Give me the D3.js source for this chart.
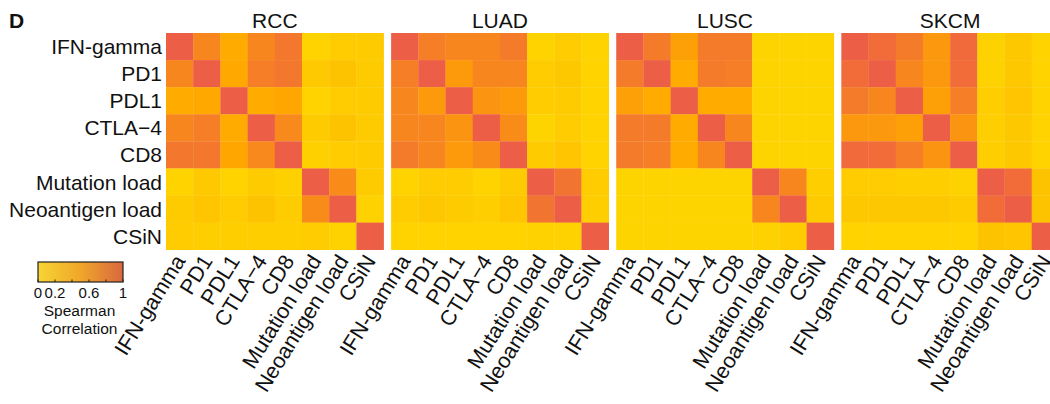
<!DOCTYPE html>
<html>
<head>
<meta charset="utf-8">
<script src="https://cdn.jsdelivr.net/npm/d3@7"></script>
<style>
  html, body { margin: 0; padding: 0; background: #fff; }
  svg { display: block; font-family: "Liberation Sans", Arial, Helvetica, sans-serif; }
</style>
</head>
<body>
<svg id="chart" width="1050" height="404"></svg>
<script>
// Features compared in every cohort
const features = ["IFN-gamma", "PD1", "PDL1", "CTLA\u22124", "CD8", "Mutation load", "Neoantigen load", "CSiN"];
const cohorts = ["RCC", "LUAD", "LUSC", "SKCM"];

// Spearman correlation matrices (rows and columns follow `features`)
const rcc = [
  [1.00, 0.72, 0.45, 0.72, 0.82, 0.03, 0.10, 0.12],
  [0.72, 1.00, 0.47, 0.78, 0.82, 0.14, 0.20, 0.12],
  [0.45, 0.47, 1.00, 0.45, 0.50, 0.03, 0.10, 0.12],
  [0.72, 0.78, 0.45, 1.00, 0.70, 0.12, 0.20, 0.12],
  [0.82, 0.82, 0.50, 0.70, 1.00, 0.06, 0.10, 0.12],
  [0.03, 0.14, 0.03, 0.12, 0.06, 1.00, 0.68, 0.12],
  [0.12, 0.18, 0.10, 0.20, 0.10, 0.68, 1.00, 0.05],
  [0.10, 0.08, 0.08, 0.08, 0.08, 0.10, 0.05, 1.00]
];
const luad = [
  [1.00, 0.78, 0.72, 0.72, 0.80, 0.03, 0.10, 0.03],
  [0.78, 1.00, 0.58, 0.72, 0.72, 0.10, 0.15, 0.03],
  [0.72, 0.58, 1.00, 0.62, 0.58, 0.10, 0.12, 0.03],
  [0.72, 0.72, 0.62, 1.00, 0.68, 0.02, 0.10, 0.03],
  [0.80, 0.72, 0.58, 0.68, 1.00, 0.12, 0.18, 0.03],
  [0.03, 0.10, 0.10, 0.03, 0.12, 1.00, 0.85, 0.10],
  [0.10, 0.15, 0.12, 0.08, 0.18, 0.85, 1.00, 0.08],
  [0.03, 0.03, 0.03, 0.03, 0.03, 0.05, 0.05, 1.00]
];
const lusc = [
  [1.00, 0.80, 0.55, 0.80, 0.80, 0.02, 0.02, 0.02],
  [0.80, 1.00, 0.45, 0.80, 0.78, 0.02, 0.02, 0.02],
  [0.55, 0.45, 1.00, 0.45, 0.45, 0.02, 0.02, 0.02],
  [0.80, 0.80, 0.45, 1.00, 0.72, 0.02, 0.02, 0.02],
  [0.80, 0.78, 0.45, 0.72, 1.00, 0.02, 0.02, 0.02],
  [0.02, 0.02, 0.02, 0.02, 0.02, 1.00, 0.72, 0.08],
  [0.02, 0.02, 0.02, 0.02, 0.02, 0.72, 1.00, 0.12],
  [0.02, 0.02, 0.02, 0.02, 0.02, 0.05, 0.10, 1.00]
];
const skcm = [
  [1.00, 0.90, 0.80, 0.60, 0.92, 0.05, 0.15, 0.03],
  [0.90, 1.00, 0.72, 0.60, 0.90, 0.05, 0.15, 0.03],
  [0.80, 0.72, 1.00, 0.55, 0.78, 0.08, 0.18, 0.03],
  [0.60, 0.60, 0.55, 1.00, 0.62, 0.08, 0.15, 0.03],
  [0.92, 0.90, 0.78, 0.62, 1.00, 0.08, 0.15, 0.03],
  [0.10, 0.10, 0.08, 0.08, 0.05, 1.00, 0.90, 0.20],
  [0.15, 0.15, 0.15, 0.15, 0.12, 0.90, 1.00, 0.20],
  [0.03, 0.03, 0.03, 0.03, 0.03, 0.20, 0.18, 1.00]
];
const matrices = [rcc, luad, lusc, skcm];

// Colour bar
const legendTicks = [0, 0.2, 0.4, 0.6, 0.8, 1];
const legendLabels = [0, 0.2, 0.6, 1];
const legendColors = ["#F7D533", "#F0A62A", "#D9683F"];

const colorDomain = [0, 0.5, 1];
const colorRange = ["#FED600", "#FFA600", "#ED5E46"];
const color = d3.scaleLinear().domain(colorDomain).range(colorRange).clamp(true);

const svg = d3.select("#chart");

const gridLeft = 166, gridTop = 33, panelW = 217.6, panelH = 216.7, gap = 6;
const rowLabelSize = 21, colLabelSize = 21.5, colAngle = -58;

const panelX = d3.scaleBand().domain(cohorts)
  .range([gridLeft, gridLeft + cohorts.length * (panelW + gap)])
  .paddingInner(gap / (panelW + gap)).paddingOuter(0).align(0);

const y = d3.scaleBand().domain(features).range([gridTop, gridTop + panelH]);

// Panel letter
svg.append("text").attr("x", 9).attr("y", 28)
  .attr("font-size", 21).attr("font-weight", "bold").attr("fill", "#111").text("D");

// Row labels
svg.append("g").selectAll("text").data(features).join("text")
  .attr("x", gridLeft - 4)
  .attr("y", d => y(d) + y.bandwidth() / 2)
  .attr("dy", "0.36em")
  .attr("text-anchor", "end")
  .attr("font-size", rowLabelSize)
  .attr("fill", "#111")
  .text(d => d);

cohorts.forEach((name, k) => {
  const x0 = panelX(name);
  const x = d3.scaleBand().domain(features).range([x0, x0 + panelW]);
  const g = svg.append("g");
  const m = matrices[k];

  const cells = [];
  m.forEach((row, i) => row.forEach((v, j) => cells.push({ r: features[i], c: features[j], v })));

  g.selectAll("rect").data(cells).join("rect")
    .attr("x", d => x(d.c))
    .attr("y", d => y(d.r))
    .attr("width", x.bandwidth() + 0.3)
    .attr("height", y.bandwidth() + 0.3)
    .attr("fill", d => color(d.v));

  // Cohort title
  g.append("text")
    .attr("x", x0 + panelW / 2)
    .attr("y", 27.5)
    .attr("text-anchor", "middle")
    .attr("font-size", 21)
    .attr("fill", "#111")
    .text(name);

  // Column labels
  g.selectAll("text.col").data(features).join("text")
    .attr("class", "col")
    .attr("transform", d => `translate(${x(d) + x.bandwidth() / 2},${gridTop + panelH + 7}) rotate(${colAngle})`)
    .attr("dy", "0.36em")
    .attr("text-anchor", "end")
    .attr("font-size", colLabelSize)
    .attr("fill", "#111")
    .text(d => d);
});

// Colour legend
const lgX = 38, lgY = 262, lgW = 85, lgH = 20;
const defs = svg.append("defs");
const grad = defs.append("linearGradient").attr("id", "spearmanGrad");
legendColors.forEach((c, i) => {
  grad.append("stop").attr("offset", (i / (legendColors.length - 1) * 100) + "%").attr("stop-color", c);
});
const lx = d3.scaleLinear().domain([0, 1]).range([lgX, lgX + lgW]);
svg.append("rect").attr("x", lgX).attr("y", lgY).attr("width", lgW).attr("height", lgH)
  .attr("fill", "url(#spearmanGrad)").attr("stroke", "#222").attr("stroke-width", 1.2);
svg.append("g").selectAll("line").data(legendTicks).join("line")
  .attr("x1", d => lx(d)).attr("x2", d => lx(d))
  .attr("y1", lgY + lgH).attr("y2", lgY + lgH - 2.5)
  .attr("stroke", "#222").attr("stroke-width", 1);
svg.append("g").selectAll("text").data(legendLabels).join("text")
  .attr("x", d => lx(d)).attr("y", 297.5)
  .attr("text-anchor", "middle").attr("font-size", 15).attr("fill", "#111")
  .text(d => d);
svg.append("text").attr("x", lgX + lgW / 2 - 1).attr("y", 315.5)
  .attr("text-anchor", "middle").attr("font-size", 15.5).attr("fill", "#111").text("Spearman");
svg.append("text").attr("x", lgX + lgW / 2 - 1).attr("y", 333.5)
  .attr("text-anchor", "middle").attr("font-size", 15.5).attr("fill", "#111").text("Correlation");
</script>
</body>
</html>
